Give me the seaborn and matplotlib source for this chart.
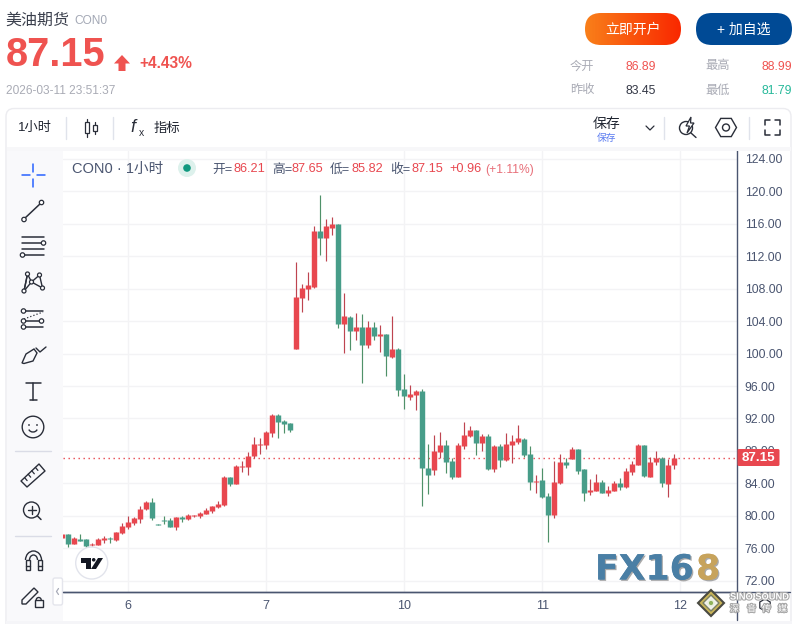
import numpy as np
import pandas as pd
import seaborn as sns
import seaborn.objects as so
from matplotlib import pyplot as plt
from matplotlib.lines import Line2D
from matplotlib.patches import Circle, FancyBboxPatch, Polygon, Rectangle, Arc, RegularPolygon
import matplotlib.patheffects as pe

# hourly candles
opens = [77.27, 77.73, 76.54, 77.11, 77.11, 76.41, 76.41, 76.99, 77.24, 76.99, 77.85, 78.59, 79.09, 79.58, 80.81,
         81.68, 78.98, 79.42, 79.46, 78.59, 79.83, 79.58, 79.95, 79.95, 80.20, 80.57, 81.06, 81.31, 84.77, 83.90,
         86.00, 86.00, 87.36, 88.72, 88.72, 90.20, 92.42, 91.68, 91.43, 100.56, 106.85, 107.96, 108.21, 115.11,
         114.25, 115.48, 115.97, 103.64, 104.51, 102.78, 103.27, 101.06, 103.27, 102.17, 102.41, 99.58, 100.56,
         95.63, 94.64, 94.89, 95.38, 85.88, 85.63, 87.85, 88.72, 86.74, 84.77, 88.59, 89.83, 90.57, 88.96, 89.83,
         85.75, 88.59, 86.86, 88.72, 89.09, 89.46, 87.60, 84.15, 84.39, 82.42, 80.07, 83.98, 86.69, 86.94, 88.29,
         85.71, 82.88, 83.00, 84.11, 82.76, 83.00, 83.98, 83.49, 85.34, 86.32, 88.78, 84.72, 86.57, 87.18, 83.86,
         86.21]
highs = [77.73, 77.73, 77.36, 77.73, 77.11, 76.70, 77.24, 77.48, 77.36, 77.98, 79.09, 79.95, 79.83, 81.19, 81.80,
         82.17, 78.98, 79.95, 79.70, 79.83, 79.95, 80.20, 80.07, 80.44, 80.94, 81.19, 81.80, 84.89, 84.77, 86.25,
         86.74, 87.85, 89.70, 89.58, 90.44, 92.54, 92.54, 91.80, 91.43, 111.29, 108.58, 110.06, 115.73, 119.55,
         116.59, 116.84, 115.97, 107.47, 104.63, 105.00, 104.88, 104.01, 103.89, 103.52, 102.41, 104.63, 100.69,
         97.48, 96.12, 95.51, 95.63, 88.84, 89.95, 90.32, 89.33, 87.11, 88.96, 91.55, 91.06, 90.57, 90.07, 90.07,
         88.72, 88.84, 90.20, 89.95, 91.18, 89.58, 88.59, 85.01, 85.88, 82.79, 86.74, 87.67, 87.18, 88.53, 88.29,
         85.71, 84.48, 85.09, 84.35, 83.62, 84.23, 84.60, 85.83, 86.81, 88.90, 88.78, 87.30, 88.04, 87.30, 87.06,
         87.65]
lows = [77.27, 76.16, 76.54, 76.91, 76.08, 76.29, 76.41, 76.66, 76.66, 76.86, 77.73, 78.43, 78.84, 79.09, 80.69,
        79.46, 78.88, 78.96, 78.59, 78.22, 79.21, 79.46, 79.83, 79.70, 80.20, 80.32, 80.94, 81.19, 83.65, 83.90,
        85.38, 85.01, 87.15, 87.60, 88.22, 89.70, 89.58, 90.20, 90.32, 100.56, 105.12, 106.60, 108.08, 112.15,
        111.41, 114.62, 103.15, 100.07, 100.44, 101.67, 96.37, 100.69, 101.67, 100.19, 97.23, 99.45, 94.77, 93.16,
        94.27, 93.04, 81.18, 82.67, 85.01, 87.11, 85.26, 84.52, 84.77, 88.22, 89.70, 87.48, 87.97, 85.63, 85.38,
        86.00, 86.74, 86.49, 88.84, 87.23, 83.16, 82.79, 82.17, 76.74, 79.70, 83.86, 85.83, 86.94, 85.21, 81.77,
        82.51, 83.00, 82.76, 82.39, 83.00, 83.12, 83.37, 84.97, 86.32, 84.72, 84.72, 86.20, 83.49, 82.26, 85.82]
closes = [77.73, 76.54, 77.24, 76.91, 76.29, 76.54, 77.11, 77.24, 77.11, 77.98, 78.72, 79.21, 79.70, 80.81, 81.68,
          79.70, 78.88, 79.33, 78.59, 79.83, 79.62, 80.07, 80.07, 80.32, 80.69, 81.19, 81.43, 84.77, 83.90, 86.12,
          86.12, 87.36, 88.84, 88.84, 90.32, 92.42, 91.55, 91.31, 90.57, 106.97, 108.08, 108.45, 115.11, 114.25,
          115.73, 115.97, 103.64, 104.63, 102.78, 103.27, 101.06, 103.27, 102.17, 102.41, 99.70, 100.56, 95.51,
          94.77, 95.01, 95.38, 85.88, 85.01, 87.97, 88.72, 86.62, 84.77, 88.72, 89.95, 90.57, 88.96, 89.83, 85.75,
          88.59, 86.86, 88.84, 89.21, 89.58, 87.48, 84.15, 84.27, 82.30, 80.07, 84.15, 86.69, 86.32, 88.29, 85.58,
          82.76, 83.12, 84.11, 82.76, 83.12, 83.98, 83.49, 85.46, 86.44, 88.78, 84.85, 86.69, 87.18, 83.98, 86.20,
          87.15]

price_ticks = [72, 76, 80, 84, 88, 92, 96, 100, 104, 108, 112, 116, 120, 124]
date_ticks = [11, 34, 57, 80, 103]
date_labels = ['6', '7', '10', '11', '12']
last_price = 87.15

RED = '#E8474F'
GREEN = '#479D89'
AXIS = '#4A5570'
ICON = '#2A2E39'
GRID = '#F3F3F5'

sns.set_theme(style='white')
plt.rcParams['font.family'] = ['Liberation Sans', 'Noto Sans CJK SC', 'DejaVu Sans']

df = pd.DataFrame({'i': np.arange(len(opens)), 'open': opens, 'high': highs, 'low': lows, 'close': closes})
up = df['close'] >= df['open']
df['body_low'] = df[['open', 'close']].min(axis=1)
df['body_high'] = df[['open', 'close']].max(axis=1)
df['body_key'] = np.where(up, 'up_body', 'down_body')
df['wick_key'] = np.where(up, 'up_wick', 'down_wick')
palette = {'up_body': RED, 'down_body': GREEN, 'up_wick': '#BE4450', 'down_wick': '#4F9169'}

fig = plt.figure(figsize=(7.98, 6.24), dpi=100, facecolor='white')
ax = fig.add_axes([63 / 798, 1 - 592 / 624, (737 - 63) / 798, (592 - 151) / 624])

(
    so.Plot(df, x='i')
    .add(so.Range(linewidth=0.85, artist_kws={'capstyle': 'butt'}), ymin='low', ymax='high', color='wick_key',
         orient='x', legend=False)
    .add(so.Range(linewidth=3.9, artist_kws={'capstyle': 'butt'}), ymin='body_low', ymax='body_high', color='body_key',
         orient='x', legend=False)
    .scale(color=so.Nominal(palette))
    .on(ax)
    .plot()
)

ax.set_xlim(0.117, 112.45)
ax.set_ylim(70.6, 124.98)
ax.set_xlabel('')
ax.set_ylabel('')
ax.set_facecolor('white')
ax.set_xticks(date_ticks)
ax.set_xticklabels(date_labels)
ax.set_yticks(price_ticks)
ax.set_yticklabels([f'{p:.2f}' for p in price_ticks])
ax.yaxis.tick_right()
ax.tick_params(axis='x', length=0, pad=6, labelsize=9, labelcolor=AXIS)
ax.tick_params(axis='y', length=0, pad=5.5, labelsize=8.8, labelcolor=AXIS)
ax.set_axisbelow(True)
ax.grid(True, color=GRID, linewidth=1)
ax.axhline(last_price, color=RED, linestyle=(0, (1, 2.6)), linewidth=1, zorder=1.5)
for name, spine in ax.spines.items():
    spine.set_visible(name in ('right', 'bottom'))
    spine.set_color(AXIS)
    spine.set_linewidth(1)

# page furniture in pixel coordinates
ui = fig.add_axes([0, 0, 1, 1], zorder=5)
ui.patch.set_alpha(0)
ui.axis('off')


def line(xs, ys, lw=1.1, color=ICON, **kw):
    ui.add_line(Line2D(xs, ys, lw=lw, color=color, solid_capstyle='round', **kw))


def ring(x, y, r=2.2, color=ICON, lw=0.9, fc='white'):
    ui.add_patch(Circle((x, y), r, fc=fc, ec=color, lw=lw, zorder=6))


def label(x, y, s, size, color=ICON, ha='left', **kw):
    ui.text(x, y, s, fontsize=size, color=color, ha=ha, va='center', **kw)


# rounded buttons, the left one with an orange gradient
grad = np.linspace(0, 1, 256).reshape(1, -1, 1)
rgb = np.array([249, 128, 26]) * (1 - grad) + np.array([249, 40, 0]) * grad
im = ui.imshow(rgb.astype(np.uint8), extent=(585, 681, 45, 13), aspect='auto', zorder=2)
btn = FancyBboxPatch((585 + 16, 13 + 16), 96 - 32, 0, boxstyle='round,pad=16', fc='none', ec='none', zorder=2)
ui.add_patch(btn)
im.set_clip_path(btn)
ui.add_patch(FancyBboxPatch((696 + 16, 13 + 16), 96 - 32, 0, boxstyle='round,pad=16', fc='#004A95', ec='none'))
ui.set_xlim(0, 798)
ui.set_ylim(624, 0)
label(633, 29.5, '立即开户', 10, 'white', ha='center')
label(744, 29.5, '+ 加自选', 10, 'white', ha='center')

# header
label(5.5, 20, '美油期货', 11.5, '#3A3F4C')
label(74, 21, 'CON0', 8.6, '#A3A8B5')
label(6, 55.5, '87.15', 28.6, '#EF5350', fontweight='bold')
ui.add_patch(Polygon([(122, 55), (130, 63.5), (125.5, 63.5), (125.5, 71), (118.5, 71), (118.5, 63.5), (114, 63.5)],
                     fc='#EF5350', ec='none'))
label(139, 64, '+4.43%', 11.2, '#EF5350', fontweight='bold')
label(6, 90.5, '2026-03-11 23:51:37', 8.6, '#A9ABB5')
for x, y, s, c in [(570, 66.5, '今开', '#A9ABB5'), (705, 66.5, '最高', '#A9ABB5'),
                   (570, 90.5, '昨收', '#A9ABB5'), (705, 90.5, '最低', '#A9ABB5'),
                   (625, 66.5, '86.89', '#EF5350'), (761, 66.5, '88.99', '#EF5350'),
                   (625, 90.5, '83.45', '#333745'), (761, 90.5, '81.79', '#26B99A')]:
    label(x, y, s, 8.8, c)

# card outline, toolbar strip, side panel
ui.add_patch(FancyBboxPatch((6 + 8, 108.5 + 8), 785 - 16, 520, boxstyle='round,pad=8', fc='none', ec='#ECECF0', lw=1))
ui.add_patch(Rectangle((7, 147), 784, 4, fc='#F7F7F9', ec='none'))
ui.add_patch(Rectangle((7, 151), 55.5, 470, fc='#F9F9FB', ec='none'))
ui.add_patch(Rectangle((6, 620.5), 786, 4, fc='#F5F5F8', ec='none'))
line([63, 790], [592, 592], lw=1, color=AXIS)
line([737, 737], [592, 620], lw=1, color=AXIS)

# top toolbar
label(18, 128, '1小时', 9.5, '#1F2430')
for x in (66, 113, 664, 749):
    line([x, x], [117, 139], lw=1, color='#E0E3EB')
for x, y0, y1, b0, b1 in [(87, 119, 137, 122, 133), (95, 122, 134, 125, 131)]:
    line([x, x], [y0, y1], lw=0.9)
    ui.add_patch(Rectangle((x - 2.3, b0), 4.6, b1 - b0, fc='white', ec=ICON, lw=0.9, zorder=6))
label(130, 128, 'f', 13, ICON, fontstyle='italic')
label(138.5, 133, 'x', 7.5, ICON)
label(154, 128.5, '指标', 9.6, '#1F2430')
label(607, 124, '保存', 10, '#1F2430', ha='center')
label(607, 137.5, '保存', 7, '#5B7CF0', ha='center')
line([646, 650, 654], [126, 130, 126], lw=0.9)
ui.add_patch(Circle((686, 128), 6.5, fc='none', ec=ICON, lw=1))
ui.add_patch(Polygon([(691, 117), (686, 126), (689.5, 126), (687, 133), (694, 123), (690.5, 123)], fc='white', ec=ICON, lw=0.9, zorder=6))
line([691, 696], [133, 137.5], lw=1)
ui.add_patch(RegularPolygon((726, 127.5), 6, radius=10.5, orientation=np.pi / 2, fc='none', ec=ICON, lw=1))
ui.add_patch(Circle((726, 127.5), 3.5, fc='none', ec=ICON, lw=1))
for cx, cy, dx, dy in [(765, 120, 1, 1), (780, 120, -1, 1), (765, 135, 1, -1), (780, 135, -1, -1)]:
    line([cx + 5 * dx, cx, cx], [cy, cy, cy + 5 * dy], lw=1.1)

# legend row
label(72, 169, 'CON0 · 1小时', 10.5, AXIS)
ui.add_patch(Circle((187, 168), 9, fc='#DDF1EC', ec='none'))
ui.add_patch(Circle((187, 168), 3.8, fc='#10997F', ec='none'))
for x, s, c, size in [(212, '开=', AXIS, 9.2), (233, '86.21', RED, 9.2), (272, '高=', AXIS, 9.2), (292, '87.65', RED, 9.2),
                      (330, '低=', AXIS, 9.2), (351, '85.82', RED, 9.2), (390, '收=', AXIS, 9.2), (411, '87.15', RED, 9.2),
                      (449, '+0.96', RED, 9.2), (485, '(+1.11%)', '#E8707A', 8.7)]:
    label(x, 169.5, s, size, c)

# last price tag
ui.add_patch(FancyBboxPatch((739, 450.5), 39, 14, boxstyle='round,pad=1.5', fc=RED, ec='none', zorder=6))
label(758.5, 458, '87.15', 9.6, 'white', ha='center', fontweight='bold', zorder=7)

# side tools
blue = '#2962FF'
line([22, 30], [175, 175], color=blue)
line([37, 45], [175, 175], color=blue)
line([33.3, 33.3], [164, 172], color=blue)
line([33.3, 33.3], [179, 187], color=blue)

line([24, 41], [219, 203])
ring(24, 219.5)
ring(41.5, 202.5)

for y, x0, x1 in [(237, 22, 44), (243, 22, 44), (249, 22, 44), (255, 22, 44)]:
    line([x0, x1], [y, y])
ring(43.5, 243)
ring(22.5, 255)

pts = [(24, 291), (27.5, 274), (31.5, 282), (39.5, 275), (42.5, 288)]
for a, b in [(0, 1), (1, 2), (2, 3), (3, 4), (0, 2), (2, 4), (1, 0)]:
    line([pts[a][0], pts[b][0]], [pts[a][1], pts[b][1]], lw=1)
for p in pts:
    ring(p[0], p[1], 2)

for y, x1 in [(311, 43), (321, 43), (327, 43)]:
    line([23, x1], [y, y])
line([24, 43], [319, 312], linestyle=':', lw=0.9)
ring(23.5, 311)
ring(23.5, 321)
ring(23.5, 327)
ring(41.5, 321)

ui.add_patch(Polygon([(22, 363), (26, 354), (34, 349), (37, 353), (33, 361), (24, 363.5)], fc='none', ec=ICON, lw=1))
line([36, 40, 46], [348, 352, 347], lw=1)

line([26, 41], [383, 383])
line([33.3, 33.3], [383, 399.5])
line([30, 37], [399.5, 399.5])

ui.add_patch(Circle((33, 427), 10.8, fc='none', ec=ICON, lw=1))
ui.add_patch(Circle((29, 425), 0.9, fc=ICON, ec='none'))
ui.add_patch(Circle((37, 425), 0.9, fc=ICON, ec='none'))
ui.add_patch(Arc((33, 428), 9, 8, theta1=20, theta2=160, ec=ICON, lw=1))

line([15, 51], [451, 451], lw=1, color='#DADCE6')
ui.add_patch(Polygon([(21, 481), (39, 464), (45, 471), (27, 487)], fc='none', ec=ICON, lw=1, joinstyle='round'))
for t in (0.2, 0.4, 0.6, 0.8):
    xa, ya = 21 + 18 * t, 481 - 17 * t
    line([xa, xa + 2.5], [ya, ya + 3], lw=0.9)

ui.add_patch(Circle((31.5, 510), 8, fc='none', ec=ICON, lw=1))
line([27.5, 35.5], [510, 510], lw=1)
line([31.5, 31.5], [506, 514], lw=1)
line([37.5, 41], [516, 519.5], lw=1.1)

line([15, 51], [536, 536], lw=1, color='#DADCE6')
ui.add_patch(Arc((33.5, 560), 16, 18, theta1=180, theta2=360, ec=ICON, lw=1))
ui.add_patch(Arc((33.5, 560), 8, 10, theta1=180, theta2=360, ec=ICON, lw=1))
ui.add_patch(Rectangle((25.5, 560), 4, 10, fc='none', ec=ICON, lw=1))
ui.add_patch(Rectangle((37.5, 560), 4, 10, fc='none', ec=ICON, lw=1))
line([25.5, 29.5], [566, 566], lw=1)
line([37.5, 41.5], [566, 566], lw=1)

ui.add_patch(Polygon([(22, 600), (34, 588), (38, 592), (26, 604), (22, 604)], fc='none', ec=ICON, lw=1))
ui.add_patch(Rectangle((35, 600), 7.5, 7, fc='none', ec=ICON, lw=1))
ui.add_patch(Arc((38.7, 600), 5, 5, theta1=180, theta2=360, ec=ICON, lw=1))

ui.add_patch(FancyBboxPatch((55, 580), 5.5, 23, boxstyle='round,pad=2', fc='white', ec='#E4E5EC', lw=1))
line([58.5, 56.5, 58.5], [588.5, 591.5, 594.5], lw=0.9, color='#A8ABB8')

# TradingView badge
ui.add_patch(Circle((91.7, 563), 16, fc='white', ec='#E2E4EC', lw=1))
ui.add_patch(Polygon([(80.7, 558), (90.7, 558), (90.7, 569), (85.5, 569), (85.5, 563), (80.7, 563)], fc='#131722', ec='none'))
ui.add_patch(Circle((93.7, 559.8), 1.8, fc='#131722', ec='none'))
ui.add_patch(Polygon([(98, 558), (103, 558), (96, 569), (91, 569)], fc='#131722', ec='none'))

# FX168 mark
shadow = [pe.withSimplePatchShadow(offset=(1, -1), shadow_rgbFace='#555555', alpha=0.5), pe.Normal()]
ui.text(595, 566, 'FX16', fontsize=25, fontweight='bold', family='DejaVu Sans', color='#4A7FA5', va='center_baseline',
        path_effects=shadow)
ui.text(696, 566, '8', fontsize=25, fontweight='bold', family='DejaVu Sans', color='#C7A35C', va='center_baseline',
        path_effects=shadow)

# SINO SOUND watermark
ui.add_patch(Polygon([(711, 590), (724, 603), (711, 616), (698, 603)], fc='#C9B458', ec='#4A4A42', lw=1.5, zorder=7))
ui.add_patch(Polygon([(711, 595), (719, 603), (711, 611), (703, 603)], fc='#F1F1EA', ec='#7A7F62', lw=1, zorder=7))
ui.add_patch(Circle((711, 603), 2.8, fc='#8FB25A', ec='#E8EEDA', lw=1, zorder=7))
ui.add_patch(RegularPolygon((765, 605), 6, radius=6, fc='none', ec=ICON, lw=0.9, zorder=7))
halo = [pe.withStroke(linewidth=1.6, foreground='#A8A8A8')]
label(730, 597, 'SINO SOUND', 6.7, 'white', fontweight='bold', path_effects=halo, zorder=8)
label(730, 609, '深', 6.5, 'white', path_effects=halo, zorder=8)
label(747, 609, '音', 6.5, 'white', path_effects=halo, zorder=8)
label(762, 609, '传', 6.5, 'white', path_effects=halo, zorder=8)
label(778, 609, '媒', 6.5, 'white', path_effects=halo, zorder=8)

fig.savefig('out.png', dpi=100)
